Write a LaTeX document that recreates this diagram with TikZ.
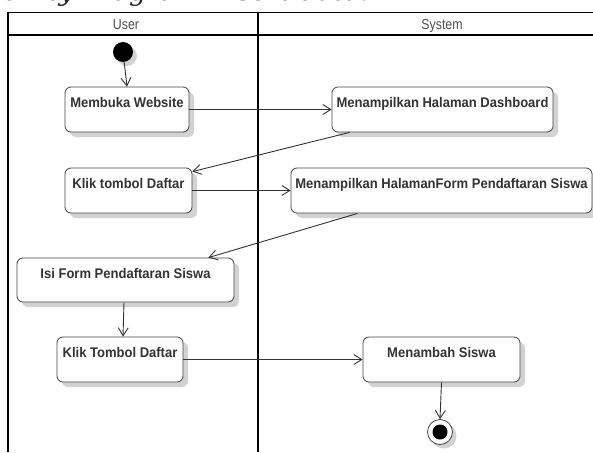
\documentclass[tikz,border=0pt]{standalone}
\usepackage{fontspec}
\usetikzlibrary{arrows.meta,shadows,calc}
\newfontfamily\boxfont[FakeStretch=0.93]{Liberation Sans}
\newfontfamily\headfont[FakeStretch=0.85]{Liberation Sans}
\newfontfamily\titlefont{DejaVu Serif}
\definecolor{inkgray}{HTML}{333333}
\definecolor{edgegray}{HTML}{444444}
\definecolor{shadegray}{HTML}{D2D2D2}
\begin{document}
\begin{tikzpicture}[x=1pt,y=-1pt,
  lane/.style={line width=1.6pt,black},
  lanetitle/.style={font=\headfont\fontsize{14.5}{16}\selectfont,text=black!70,anchor=base,inner sep=0pt},
  boxshadow/.style={general shadow={shadow xshift=5pt,shadow yshift=-5pt,fill=shadegray,opacity=1}},
  actbox/.style={draw=edgegray,fill=white,line width=0.8pt,rounded corners=6pt,
    inner xsep=0pt,inner ysep=0pt,text height=20pt,text depth=25pt,
    font=\boxfont\bfseries\fontsize{14}{16}\selectfont,text=inkgray,boxshadow},
  flow/.style={draw=inkgray,line width=0.9pt,-{Straight Barb[length=8pt,width=10pt]}}
]
\useasboundingbox (0,0) rectangle (593,452);
\clip (0,0) rectangle (593,452);

% heading above the swimlanes
\node[font=\titlefont\itshape\fontsize{27}{30}\selectfont,anchor=base east,inner sep=0pt,text=black!85]
  (heading) at (369,1) {Activity Diagram Insert data.};

% swimlane frame
\draw[lane] (8,452) -- (8,12.5) -- (593,12.5);
\draw[lane] (8,35) -- (593,35);
\draw[lane] (258,12.5) -- (258,452);
\node[lanetitle] (userlane) at (126,30) {User};
\node[lanetitle] (syslane) at (442,30) {System};

% start node
\node[circle,fill=black,minimum size=20pt,inner sep=0pt,
  general shadow={shadow xshift=4pt,shadow yshift=-4pt,fill=shadegray,opacity=1}]
  (start) at (123,52) {};

% activities
\node[actbox,minimum width=124pt] (web) at (127,109.5) {Membuka Website};
\node[actbox,minimum width=221pt] (dash) at (442.5,109.5) {Menampilkan Halaman Dashboard};
\node[actbox,minimum width=127pt] (klik1) at (128.5,190.5) {Klik tombol Daftar};
\node[actbox,minimum width=301pt] (form) at (441.5,190.5) {Menampilkan HalamanForm Pendaftaran Siswa};
\node[actbox,minimum width=217pt,text depth=24pt] (isi) at (125.5,280) {Isi Form Pendaftaran Siswa};
\node[actbox,minimum width=126pt] (klik2) at (120,359.5) {Klik Tombol Daftar};
\node[actbox,minimum width=157pt] (tambah) at (441.5,359.5) {Menambah Siswa};

% final node
\node[circle,draw=edgegray,fill=white,line width=0.8pt,minimum size=25pt,inner sep=0pt,
  general shadow={shadow xshift=4pt,shadow yshift=-4pt,fill=shadegray,opacity=1}]
  (stop) at (440,432) {};
\node[circle,fill=black,minimum size=15pt,inner sep=0pt] (stopdot) at (stop) {};

% control flows
\draw[flow] (start) -- (web.north);
\draw[flow] (web.east) -- (dash.west);
\draw[flow] ($(dash.south west)+(18,0)$) -- ($(klik1.north east)+(0,4)$);
\draw[flow] (klik1.east) -- (form.west);
\draw[flow] ($(form.south west)+(67,0)$) -- ($(isi.north east)+(-26,0)$);
\draw[flow] ($(isi.south)+(-1.5,0)$) -- ($(klik2.north)+(3,0)$);
\draw[flow] (klik2.east) -- (tambah.west);
\draw[flow] (tambah.south) -- (stop.north);
\end{tikzpicture}
\end{document}
